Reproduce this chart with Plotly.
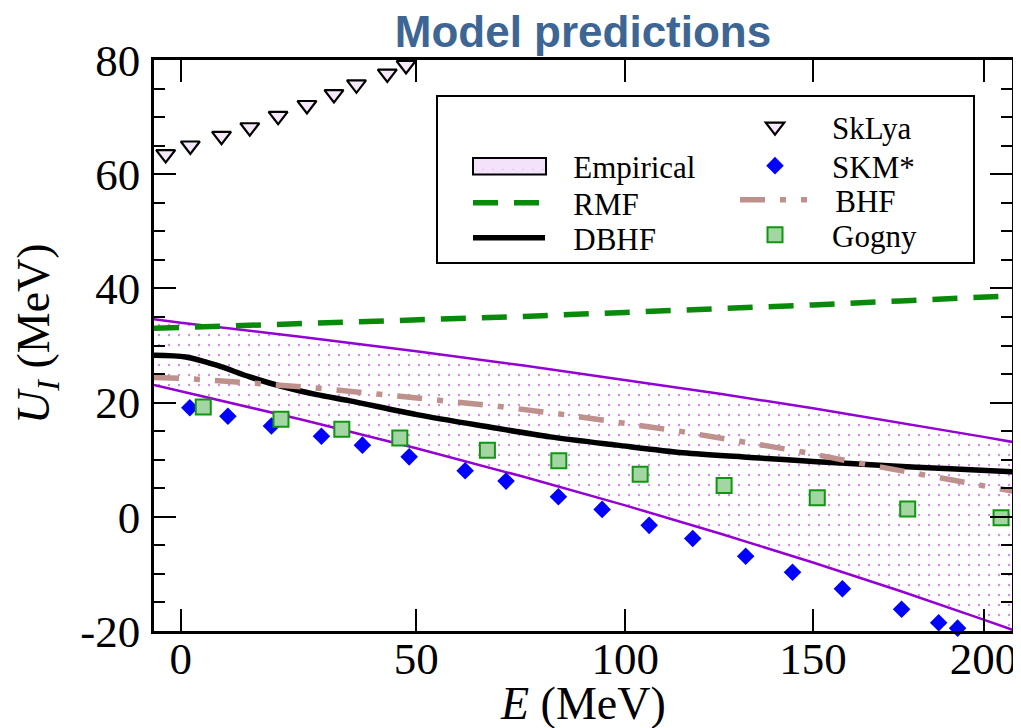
import math
import plotly.graph_objects as go

# ---------------- data ----------------
emp_E = [-5.3, 0, 25, 50, 75, 100, 125, 150, 175, 200, 209]
emp_upper = [34.6, 34.0, 31.5, 29.0, 26.5, 24.0, 21.5, 19.0, 16.5, 14.0, 13.1]
emp_lower = [23.1, 22.0, 17.0, 12.0, 7.0, 2.0, -3.0, -8.0, -13.0, -18.0, -19.8]

rmf_E = [-5.3, 25, 50, 75, 100, 125, 150, 175, 209]
rmf_U = [33.0, 33.8, 34.4, 35.1, 35.8, 36.4, 37.1, 37.8, 38.7]

dbhf_E = [-5.3, 1.0, 7.2, 14.0, 21.0, 28.1, 35.3, 50.1, 65.4, 81.4, 97.9, 114.9,
          132.7, 151.1, 170.1, 189.9, 209]
dbhf_U = [28.3, 28.0, 26.55, 24.5, 22.75, 21.4, 20.3, 17.9, 15.9, 14.0, 12.55, 11.2,
          10.4, 9.65, 9.0, 8.4, 7.9]

bhf_E = [-5.3, 1.2, 13.8, 26.7, 40.1, 54.0, 68.2, 82.8, 97.9, 113.8, 129.7, 146.7,
         163.6, 181.5, 199.9, 209]
bhf_U = [24.4, 24.2, 23.45, 22.65, 21.6, 20.6, 19.4, 18.1, 16.6, 15.0, 13.25, 11.4,
         9.35, 7.3, 5.4, 4.5]

sklya_E = [-3.0, 1.9, 8.2, 14.0, 19.9, 26.0, 31.8, 36.7, 43.5, 47.7]
sklya_U = [63.5, 65.0, 66.7, 68.2, 70.2, 72.1, 74.0, 75.7, 77.6, 79.1]

skm_E = [1.8, 9.5, 18.5, 29.1, 38.0, 48.4, 61.2, 70.8, 83.4, 94.2, 106.1, 117.4,
         131.5, 144.3, 158.3, 175.4, 186.4, 192.1]
skm_U = [19.1, 17.6, 15.9, 14.1, 12.55, 10.5, 8.05, 6.25, 3.5, 1.3, -1.5, -3.8,
         -6.9, -9.7, -12.6, -16.2, -18.55, -19.5]

gogny_E = [4.5, 20.5, 33.5, 46.3, 66.4, 83.5, 103.8, 125.7, 151.2, 177.2, 205.4]
gogny_U = [19.25, 17.1, 15.35, 13.8, 11.65, 9.8, 7.45, 5.5, 3.35, 1.35, -0.15]

x_ticks = [0, 50, 100, 150, 200]
x_tick_labels = ["0", "50", "100", "150", "200"]
y_ticks = [-20, 0, 20, 40, 60, 80]
y_tick_labels = ["-20", "0", "20", "40", "60", "80"]

# ---------------- layout constants ----------------
PAGE_OFF = 8             # default body margin of the html page
W, H = 1021 - PAGE_OFF, 728 - PAGE_OFF
E_SHIFT = 370.0          # the energy axis of the picture is warped (log of E+shift)
X_MIN, X_MAX = -5.3, 208.8
# plot area in page pixels
PL, PR, PT, PB = 154, 1012, 60, 631
ML, MR, MT, MB = PL - PAGE_OFF, W + PAGE_OFF - PR, PT - PAGE_OFF, H + PAGE_OFF - PB
SERIF = "Liberation Serif, Times New Roman, serif"
NB = "\u00a0"
BAND_PURPLE = "#9400d3"


def sx(vals):
    return [v + E_SHIFT for v in vals]


def px2paper_x(px):
    return (px - PL) / (PR - PL)


def py2paper_y(py):
    return (PB - py) / (PB - PT)


fig = go.Figure()

# empirical band: dotted fill, then its two purple borders
fig.add_trace(go.Scatter(
    x=sx(emp_E) + sx(emp_E[::-1]), y=emp_upper + emp_lower[::-1],
    mode="lines", fill="toself", fillcolor="rgba(255,255,255,0)",
    fillpattern=dict(shape=".", fgcolor="#a418e0", bgcolor="rgba(255,255,255,0)",
                     size=10, solidity=0.045),
    line=dict(width=0, color=BAND_PURPLE), name=NB * 3 + "Empirical", legend="legend"))
for band_edge in (emp_upper, emp_lower):
    fig.add_trace(go.Scatter(
        x=sx(emp_E), y=band_edge, mode="lines", showlegend=False, hoverinfo="skip",
        line=dict(color=BAND_PURPLE, width=2.5)))

fig.add_trace(go.Scatter(
    x=sx(rmf_E), y=rmf_U, mode="lines",
    line=dict(color="#0a8a0a", width=5.5, dash="25px,16px"), name=NB * 3 + "RMF",
    legend="legend2"))

fig.add_trace(go.Scatter(
    x=sx(dbhf_E), y=dbhf_U, mode="lines", line_shape="spline",
    line=dict(color="black", width=5.5, smoothing=0.8), name=NB * 3 + "DBHF",
    legend="legend3"))

fig.add_trace(go.Scatter(
    x=sx(sklya_E), y=sklya_U, mode="markers", cliponaxis=False,
    marker=dict(symbol="triangle-down", size=16.5, color="#f6e9fb",
                line=dict(color="black", width=2.2)),
    name="SkLya", legend="legend4"))

fig.add_trace(go.Scatter(
    x=sx(skm_E), y=skm_U, mode="markers", cliponaxis=False,
    marker=dict(symbol="diamond", size=13.5, color="#0000ff", line=dict(width=0)),
    name="SKM*", legend="legend5"))

fig.add_trace(go.Scatter(
    x=sx(bhf_E), y=bhf_U, mode="lines",
    line=dict(color="#bf918d", width=5.5, dash="25px,15px,6px,15px"),
    name=NB * 3 + "BHF", legend="legend6"))

fig.add_trace(go.Scatter(
    x=sx(gogny_E), y=gogny_U, mode="markers", cliponaxis=False,
    marker=dict(symbol="square", size=15, color="#a3d6a3",
                line=dict(color="#129612", width=2)),
    name="Gogny", legend="legend7"))

axis_common = dict(
    showline=True, linecolor="black", linewidth=2.5, mirror="ticks",
    ticks="inside", ticklen=22, tickwidth=2, tickcolor="black",
    showgrid=False, zeroline=False, automargin=False,
    tickfont=dict(family=SERIF, size=45, color="black"),
)

fig.update_xaxes(
    type="log",
    range=[math.log10(X_MIN + E_SHIFT), math.log10(X_MAX + E_SHIFT)],
    tickmode="array", tickvals=sx(x_ticks), ticktext=x_tick_labels,
    ticklabelstandoff=-14,
    **axis_common)

fig.update_yaxes(
    range=[-20, 80], tickmode="array", tickvals=y_ticks, ticktext=y_tick_labels,
    minor=dict(tickmode="linear", tick0=0, dtick=5, ticks="inside", ticklen=11,
               tickwidth=2, tickcolor="black"),
    ticklabelstandoff=2,
    **axis_common)


def legend_at(px, py, itemwidth):
    return dict(x=px2paper_x(px), y=py2paper_y(py),
                xanchor="left", yanchor="middle", bgcolor="rgba(0,0,0,0)",
                borderwidth=0, itemwidth=itemwidth,
                font=dict(family=SERIF, size=31, color="black"))


fig.update_layout(
    width=W, height=H,
    margin=dict(l=ML, r=MR, t=MT, b=MB, pad=0, autoexpand=False),
    paper_bgcolor="white", plot_bgcolor="white",
    showlegend=True,
    title=dict(text="<b>Model predictions</b>",
               font=dict(family="Liberation Sans, Arial, sans-serif",
                         size=44, color="#3d6694"),
               x=0.5, xref="paper", xanchor="center",
               y=1 - 23.5 / H, yref="container", yanchor="middle"),
    legend=legend_at(468, 166, 72),
    legend2=legend_at(468, 203, 72),
    legend3=legend_at(468, 238, 72),
    legend4=legend_at(718, 127, 104),
    legend5=legend_at(718, 166, 104),
    legend6=legend_at(735, 200, 67),
    legend7=legend_at(718, 235, 104),
    annotations=[
        dict(text="<i>E</i> (MeV)", xref="paper", yref="paper",
             x=px2paper_x(583), y=py2paper_y(703), xanchor="center", yanchor="middle",
             showarrow=False, font=dict(family=SERIF, size=46, color="black")),
        dict(text="<i>U</i><sub><i>I</i></sub> (MeV)", xref="paper", yref="paper",
             x=px2paper_x(37), y=py2paper_y(334), xanchor="center", yanchor="middle",
             textangle=-90, showarrow=False,
             font=dict(family=SERIF, size=46, color="black")),
    ],
    shapes=[
        # legend frame
        dict(type="rect", xref="paper", yref="paper",
             x0=px2paper_x(437), x1=px2paper_x(974),
             y0=py2paper_y(263), y1=py2paper_y(96),
             line=dict(color="black", width=2), layer="below"),
        # frame of the "Empirical" legend key
        dict(type="rect", xref="paper", yref="paper",
             x0=px2paper_x(473), x1=px2paper_x(546),
             y0=py2paper_y(174.5), y1=py2paper_y(158),
             line=dict(color="black", width=2), fillcolor="#f3e2fa", layer="above"),
    ],
)

fig.write_html("out.html")
